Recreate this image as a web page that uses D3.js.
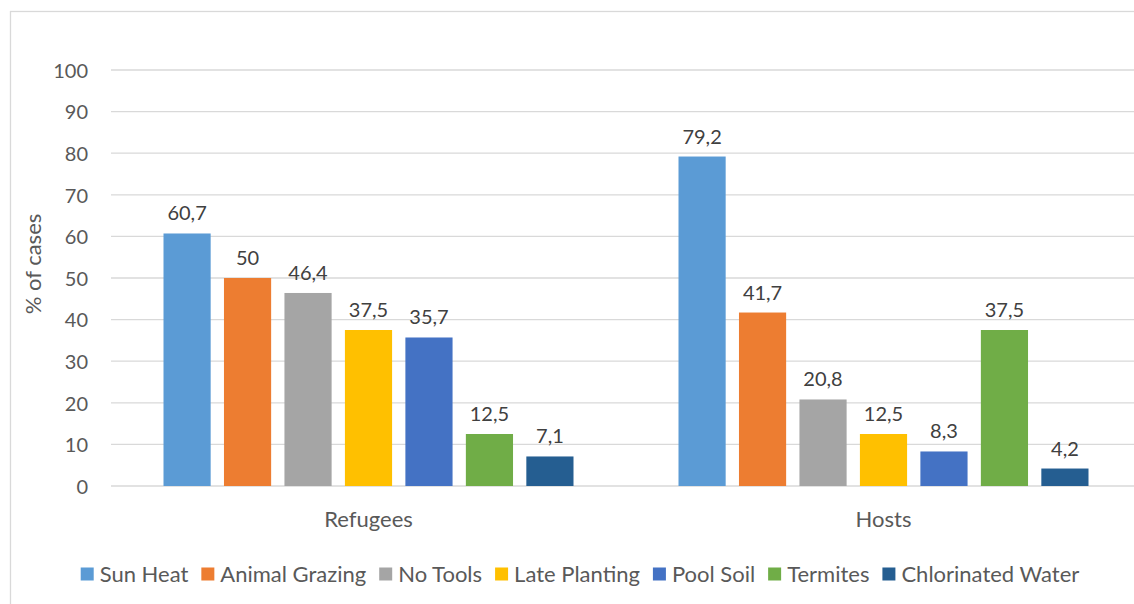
<!DOCTYPE html>
<html>
<head>
<meta charset="utf-8">
<script src="https://cdn.jsdelivr.net/npm/d3@7"></script>
<style>
  html, body { margin: 0; padding: 0; background: #fff; }
  svg { display: block; font-family: Lato, "Open Sans", sans-serif; }
</style>
</head>
<body>
<svg id="chart" width="1134" height="604"></svg>
<script>
// Groups on the x axis and the seven causes drawn in each group
const groups = ["Refugees", "Hosts"];
const seriesNames = ["Sun Heat", "Animal Grazing", "No Tools", "Late Planting", "Pool Soil", "Termites", "Chlorinated Water"];
const refugeesValues = [60.7, 50, 46.4, 37.5, 35.7, 12.5, 7.1];
const hostsValues = [79.2, 41.7, 20.8, 12.5, 8.3, 37.5, 4.2];
const seriesColors = ["#5B9BD5", "#ED7D31", "#A5A5A5", "#FFC000", "#4472C4", "#70AD47", "#255E91"];
const yTicks = [0, 10, 20, 30, 40, 50, 60, 70, 80, 90, 100];
const yTitle = "% of cases";

const valuesByGroup = { "Refugees": refugeesValues, "Hosts": hostsValues };

const svg = d3.select("#chart");
const W = 1134, H = 604;

// outer chart frame
svg.append("rect")
  .attr("x", 10.5).attr("y", 11.5)
  .attr("width", 1140).attr("height", 620)
  .attr("fill", "#fff").attr("stroke", "#d9d9d9").attr("stroke-width", 1.3);

const plot = { left: 111, right: 1141, top: 70, bottom: 486 };

const y = d3.scaleLinear().domain([0, 100]).range([plot.bottom, plot.top]);
const x0 = d3.scaleBand().domain(groups).range([plot.left, plot.right]).paddingInner(0).paddingOuter(0);
const groupPad = 52.5;
const x1 = d3.scaleBand().domain(seriesNames)
  .range([groupPad, x0.bandwidth() - groupPad])
  .paddingInner(0.22).paddingOuter(0);

const fmt = v => String(v).replace(".", ",");

// horizontal gridlines
svg.append("g").selectAll("line").data(yTicks).join("line")
  .attr("x1", plot.left).attr("x2", W)
  .attr("y1", d => y(d)).attr("y2", d => y(d))
  .attr("stroke", "#d9d9d9").attr("stroke-width", 1.3);

// y axis tick labels
const yAxis = d3.axisLeft(y).tickValues(yTicks).tickSize(0).tickPadding(0);
const yg = svg.append("g").attr("transform", `translate(88,0)`).call(yAxis);
yg.select(".domain").remove();
yg.selectAll("text")
  .attr("font-size", 20).attr("fill", "#595959")
  .attr("font-family", "Lato, 'Open Sans', sans-serif")
  .attr("dy", "0.36em").attr("x", 0);

// y axis title
svg.append("text")
  .attr("transform", "translate(41,264) rotate(-90)")
  .attr("text-anchor", "middle")
  .attr("font-size", 22).attr("fill", "#595959")
  .text(yTitle);

// bars and value labels
const gGroups = svg.append("g").selectAll("g").data(groups).join("g")
  .attr("transform", d => `translate(${x0(d)},0)`);

const cells = gGroups.selectAll("g.cell")
  .data(g => seriesNames.map((s, i) => ({ group: g, series: s, value: valuesByGroup[g][i], color: seriesColors[i] })))
  .join("g").attr("class", "cell");

cells.append("rect")
  .attr("x", d => x1(d.series))
  .attr("width", x1.bandwidth())
  .attr("y", d => y(d.value))
  .attr("height", d => y(0) - y(d.value))
  .attr("fill", d => d.color);

cells.append("text")
  .attr("x", d => x1(d.series) + x1.bandwidth() / 2)
  .attr("y", d => y(d.value) - 13)
  .attr("text-anchor", "middle")
  .attr("font-size", 20).attr("fill", "#404040")
  .text(d => fmt(d.value));

// x axis category labels
const xAxis = d3.axisBottom(x0).tickSize(0).tickPadding(0);
const xg = svg.append("g").attr("transform", `translate(0,${plot.bottom})`).call(xAxis);
xg.select(".domain").remove();
xg.selectAll("text")
  .attr("font-size", 22).attr("fill", "#595959")
  .attr("font-family", "Lato, 'Open Sans', sans-serif")
  .attr("y", 33).attr("dy", "0.36em");

// legend, laid out item by item and centred
const legend = svg.append("g");
const items = legend.selectAll("g").data(seriesNames).join("g");
items.append("rect")
  .attr("width", 13).attr("height", 13)
  .attr("y", -6.5)
  .attr("fill", (d, i) => seriesColors[i]);
items.append("text")
  .attr("x", 19).attr("dy", "0.36em")
  .attr("font-size", 22).attr("fill", "#595959")
  .text(d => d);

let cx = 0;
items.each(function() {
  const w = 19 + this.querySelector("text").getComputedTextLength();
  d3.select(this).attr("transform", `translate(${cx},0)`);
  cx += w + 13;
});
const legendWidth = cx - 13;
legend.attr("transform", `translate(${580 - legendWidth / 2},574)`);
</script>
</body>
</html>
